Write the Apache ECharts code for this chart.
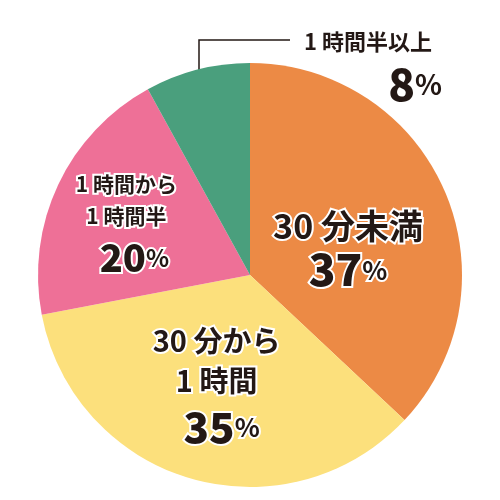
<!DOCTYPE html>
<html><head><meta charset="utf-8">
<script src="https://cdn.jsdelivr.net/npm/echarts@6/dist/echarts.min.js"></script>
<style>html,body{margin:0;padding:0;background:#fff}#c{width:500px;height:500px}</style>
</head><body><div id="c"></div>
<script>
const categories = ['30 分未満', '30 分から\n1 時間', '1 時間から\n1 時間半', '1 時間半以上'];
const values = [37, 35, 20, 8];
const colors = ['#EC8A45', '#FCE07C', '#EE7097', '#4A9F7D'];

const FONT = '"Noto Sans CJK JP", "Noto Sans", sans-serif';
const base = {color: '#231815', textBorderColor: '#fff', textBorderWidth: 4, fontFamily: FONT};
function rich(catSize, numSize, pctSize, lh, nlh, pad, npad) {
  return {
    a: Object.assign({}, base, {fontSize: catSize, fontWeight: 'bold', lineHeight: lh, padding: pad || 0}),
    n: Object.assign({}, base, {fontSize: numSize, fontWeight: 900, lineHeight: nlh, padding: npad || 0}),
    p: Object.assign({}, base, {fontSize: pctSize, fontWeight: 'bold', lineHeight: nlh})
  };
}
const labelCfg = [
  {offset: [-2, 16], rich: rich(34, 44, 26, 44, 44)},
  {offset: [-3, 7], rich: rich(29, 42, 26, 40, 52, 0, [0, 0, 0, 10])},
  {offset: [-25, -3], rich: rich(21, 38, 24, 32, 52, 0, [0, 0, 0, 16])},
  {rich: rich(22, 44, 28, 40, 44, [0, 10, 0, 0])}
];

const data = categories.map((c, i) => {
  const lines = c.split('\n').map(s => '{a|' + s + '}').join('\n');
  return {
    name: c, value: values[i],
    itemStyle: {color: colors[i]},
    label: {
      show: true,
      position: i === 3 ? 'outside' : 'inside',
      offset: labelCfg[i].offset,
      align: i === 3 ? 'right' : 'center',
      formatter: lines + '\n{n|' + values[i] + '}{p|%}',
      rich: labelCfg[i].rich
    },
    labelLine: {show: i === 3, lineStyle: {color: '#231815', width: 1.5}, smooth: false}
  };
});

const chart = echarts.init(document.getElementById('c'));
chart.setOption({
  animation: false,
  series: [{
    type: 'pie',
    center: ['50%', '55%'],
    radius: 212,
    startAngle: 90,
    clockwise: true,
    silent: true,
    data: data,
    labelLayout: function (p) {
      if (p.dataIndex === 3) {
        return {x: 442, y: 64, align: 'right', verticalAlign: 'middle',
                labelLinePoints: [[199, 84], [199, 40], [290, 40]]};
      }
    }
  }]
});
</script></body></html>
